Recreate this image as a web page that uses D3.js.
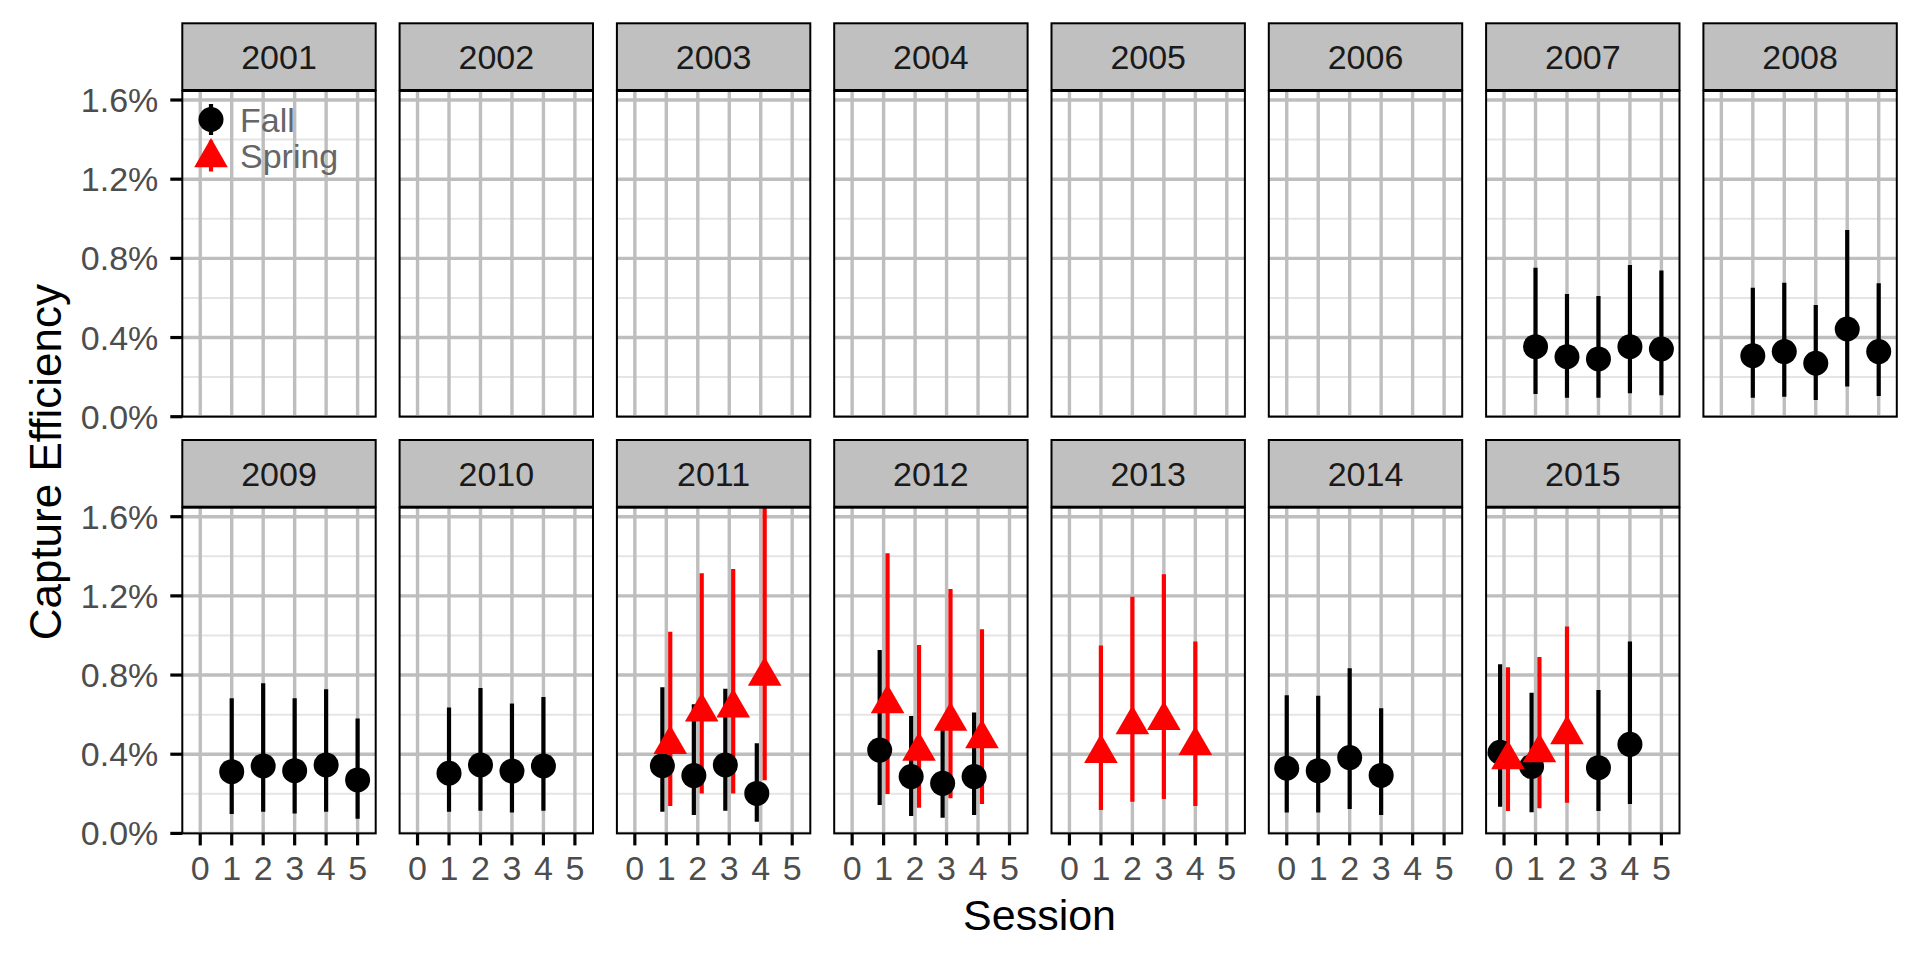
<!DOCTYPE html>
<html>
<head>
<meta charset="utf-8">
<script src="https://cdn.jsdelivr.net/npm/d3@7"></script>
<style>
  html, body { margin: 0; padding: 0; background: #fff; }
  svg text { font-family: "Liberation Sans", Arial, Helvetica, sans-serif; }
</style>
</head>
<body>
<svg id="chart" width="1920" height="960"></svg>
<script>
// ---------------- data ----------------
const years = [2001, 2002, 2003, 2004, 2005, 2006, 2007, 2008,
               2009, 2010, 2011, 2012, 2013, 2014, 2015];
const sessions = [0, 1, 2, 3, 4, 5];
const yTicks = [0, 0.4, 0.8, 1.2, 1.6];
const yMinor = [0.2, 0.6, 1.0, 1.4];
const seasons = ["Fall", "Spring"];

// [year, session, estimate %, lower %, upper %]
const fall = [
  [2007, 1, 0.354, 0.115, 0.753],
  [2007, 2, 0.303, 0.096, 0.620],
  [2007, 3, 0.292, 0.096, 0.610],
  [2007, 4, 0.354, 0.118, 0.767],
  [2007, 5, 0.342, 0.108, 0.738],
  [2008, 1, 0.308, 0.096, 0.652],
  [2008, 2, 0.329, 0.101, 0.677],
  [2008, 3, 0.270, 0.084, 0.564],
  [2008, 4, 0.443, 0.152, 0.943],
  [2008, 5, 0.329, 0.105, 0.674],
  [2009, 1, 0.312, 0.098, 0.683],
  [2009, 2, 0.341, 0.110, 0.758],
  [2009, 3, 0.317, 0.101, 0.683],
  [2009, 4, 0.346, 0.110, 0.728],
  [2009, 5, 0.270, 0.074, 0.580],
  [2010, 1, 0.304, 0.110, 0.636],
  [2010, 2, 0.346, 0.115, 0.735],
  [2010, 3, 0.315, 0.106, 0.656],
  [2010, 4, 0.341, 0.115, 0.689],
  [2011, 1, 0.342, 0.110, 0.738],
  [2011, 2, 0.292, 0.093, 0.652],
  [2011, 3, 0.346, 0.115, 0.731],
  [2011, 4, 0.202, 0.059, 0.455],
  [2012, 1, 0.421, 0.144, 0.927],
  [2012, 2, 0.287, 0.088, 0.593],
  [2012, 3, 0.253, 0.079, 0.550],
  [2012, 4, 0.287, 0.093, 0.611],
  [2014, 0, 0.329, 0.106, 0.698],
  [2014, 1, 0.317, 0.106, 0.696],
  [2014, 2, 0.383, 0.123, 0.834],
  [2014, 3, 0.293, 0.093, 0.632],
  [2015, 0, 0.410, 0.135, 0.855],
  [2015, 1, 0.338, 0.107, 0.711],
  [2015, 3, 0.332, 0.113, 0.725],
  [2015, 4, 0.450, 0.149, 0.969]
];
const spring = [
  [2011, 1, 0.450, 0.139, 1.019],
  [2011, 2, 0.614, 0.202, 1.314],
  [2011, 3, 0.634, 0.202, 1.336],
  [2011, 4, 0.795, 0.269, 1.700],
  [2012, 1, 0.656, 0.199, 1.415],
  [2012, 2, 0.416, 0.130, 0.952],
  [2012, 3, 0.567, 0.177, 1.235],
  [2012, 4, 0.479, 0.148, 1.031],
  [2013, 1, 0.405, 0.118, 0.949],
  [2013, 2, 0.550, 0.160, 1.196],
  [2013, 3, 0.571, 0.174, 1.309],
  [2013, 4, 0.445, 0.138, 0.969],
  [2015, 0, 0.373, 0.113, 0.839],
  [2015, 1, 0.408, 0.127, 0.891],
  [2015, 2, 0.500, 0.155, 1.045]
];

// ---------------- layout ----------------
const nCol = 8;
const left0 = 182.3, colStep = 217.3, panelW = 193.4;
const rowStep = 416.7, stripTop = 23.3, stripH = 66.7, panelTop = 91, panelBottom = 416.7;
const panelH = panelBottom - panelTop;
const colors = { Fall: "#000000", Spring: "#FF0000" };
const gridMajor = "#BEBEBE", gridMinor = "#E5E5E5";
const fsAxis = 34, fsTitle = 44;

const svg = d3.select("#chart");
const x = d3.scaleLinear().domain([-0.57, 5.575]).range([0, panelW]);
const y = d3.scaleLinear().domain([0, 1.6455]).range([panelH, 0]);
const fmtPct = d3.format(".1f");

// build records with dodge
const recs = [];
function addRecs(arr, season) {
  arr.forEach(d => recs.push({ year: d[0], session: d[1], est: d[2], lo: d[3], hi: d[4], season }));
}
addRecs(fall, "Fall");
addRecs(spring, "Spring");
const dodgeW = 0.5;
recs.forEach(r => {
  const both = recs.filter(o => o.year === r.year && o.session === r.session).length > 1;
  r.xpos = r.session + (both ? (r.season === "Fall" ? -dodgeW / 4 : dodgeW / 4) : 0);
});

const defs = svg.append("defs");
const triPath = d3.symbol(d3.symbolTriangle, 489)();

years.forEach((yr, i) => {
  const col = i % nCol, row = Math.floor(i / nCol);
  const px = left0 + col * colStep;
  const py = row * rowStep;
  const g = svg.append("g");

  // strip
  g.append("rect").attr("x", px).attr("y", py + stripTop).attr("width", panelW).attr("height", stripH)
    .attr("fill", "#C0C0C0").attr("stroke", "#000").attr("stroke-width", 2);
  g.append("text").attr("x", px + panelW / 2).attr("y", py + stripTop + stripH / 2 + 0.36 * fsAxis)
    .attr("text-anchor", "middle").attr("font-size", fsAxis).attr("fill", "#1A1A1A").text(yr);

  // panel
  const pg = g.append("g").attr("transform", `translate(${px},${py + panelTop})`);
  const cid = "clip" + yr;
  defs.append("clipPath").attr("id", cid).append("rect").attr("width", panelW).attr("height", panelH);
  pg.append("rect").attr("width", panelW).attr("height", panelH).attr("fill", "#fff");
  const inner = pg.append("g").attr("clip-path", `url(#${cid})`);
  inner.selectAll(".ymin").data(yMinor).enter().append("line")
    .attr("x1", 0).attr("x2", panelW).attr("y1", d => y(d)).attr("y2", d => y(d))
    .attr("stroke", gridMinor).attr("stroke-width", 2);
  inner.selectAll(".ymaj").data(yTicks).enter().append("line")
    .attr("x1", 0).attr("x2", panelW).attr("y1", d => y(d)).attr("y2", d => y(d))
    .attr("stroke", gridMajor).attr("stroke-width", 3.4);
  inner.selectAll(".xmaj").data(sessions).enter().append("line")
    .attr("y1", 0).attr("y2", panelH).attr("x1", d => x(d)).attr("x2", d => x(d))
    .attr("stroke", gridMajor).attr("stroke-width", 3.4);

  const data = recs.filter(r => r.year === yr);
  // ranges first
  inner.selectAll(".rng").data(data).enter().append("line")
    .attr("x1", d => x(d.xpos)).attr("x2", d => x(d.xpos))
    .attr("y1", d => y(d.lo)).attr("y2", d => y(d.hi))
    .attr("stroke", d => colors[d.season]).attr("stroke-width", 4.2);
  // then points
  data.forEach(d => {
    if (d.season === "Fall") {
      inner.append("circle").attr("cx", x(d.xpos)).attr("cy", y(d.est)).attr("r", 12.5).attr("fill", colors.Fall);
    } else {
      inner.append("path").attr("d", triPath)
        .attr("transform", `translate(${x(d.xpos)},${y(d.est)})`).attr("fill", colors.Spring);
    }
  });

  pg.append("rect").attr("width", panelW).attr("height", panelH).attr("fill", "none")
    .attr("stroke", "#000").attr("stroke-width", 2);

  // y axis on left column
  if (col === 0) {
    const ya = pg.append("g");
    yTicks.forEach(t => {
      ya.append("line").attr("x1", -12).attr("x2", 0).attr("y1", y(t)).attr("y2", y(t))
        .attr("stroke", "#000").attr("stroke-width", 3.2);
      ya.append("text").attr("x", -24).attr("y", y(t) + 0.355 * fsAxis).attr("text-anchor", "end")
        .attr("font-size", fsAxis).attr("fill", "#4D4D4D").text(fmtPct(t) + "%");
    });
  }
  // x axis on bottom row
  if (row === 1) {
    const xa = pg.append("g").attr("transform", `translate(0,${panelH})`);
    sessions.forEach(s => {
      xa.append("line").attr("x1", x(s)).attr("x2", x(s)).attr("y1", 0).attr("y2", 12)
        .attr("stroke", "#000").attr("stroke-width", 3.2);
      xa.append("text").attr("x", x(s)).attr("y", 47).attr("text-anchor", "middle")
        .attr("font-size", fsAxis).attr("fill", "#4D4D4D").text(s);
    });
  }
});

// axis titles
svg.append("text").attr("x", left0 + (7 * colStep + panelW) / 2).attr("y", 930)
  .attr("text-anchor", "middle").attr("font-size", fsTitle - 1).attr("fill", "#000").text("Session");
svg.append("text").attr("transform", `translate(61,${(panelTop + rowStep + panelBottom) / 2}) rotate(-90)`)
  .attr("text-anchor", "middle").attr("font-size", fsTitle).attr("fill", "#000").text("Capture Efficiency");

// legend (inside first panel)
const lg = svg.append("g");
const keyX = 211, keyY = [119.5, 156];
seasons.forEach((s, i) => {
  lg.append("line").attr("x1", keyX).attr("x2", keyX).attr("y1", keyY[i] - 15.5).attr("y2", keyY[i] + 15.5)
    .attr("stroke", colors[s]).attr("stroke-width", 4.2);
  if (s === "Fall") {
    lg.append("circle").attr("cx", keyX).attr("cy", keyY[i]).attr("r", 12.5).attr("fill", colors[s]);
  } else {
    lg.append("path").attr("d", triPath).attr("transform", `translate(${keyX},${keyY[i] + 1.5})`).attr("fill", colors[s]);
  }
  lg.append("text").attr("x", 240).attr("y", keyY[i] + 0.36 * fsAxis).attr("font-size", fsAxis)
    .attr("fill", "#666666").text(s);
});
</script>
</body>
</html>
